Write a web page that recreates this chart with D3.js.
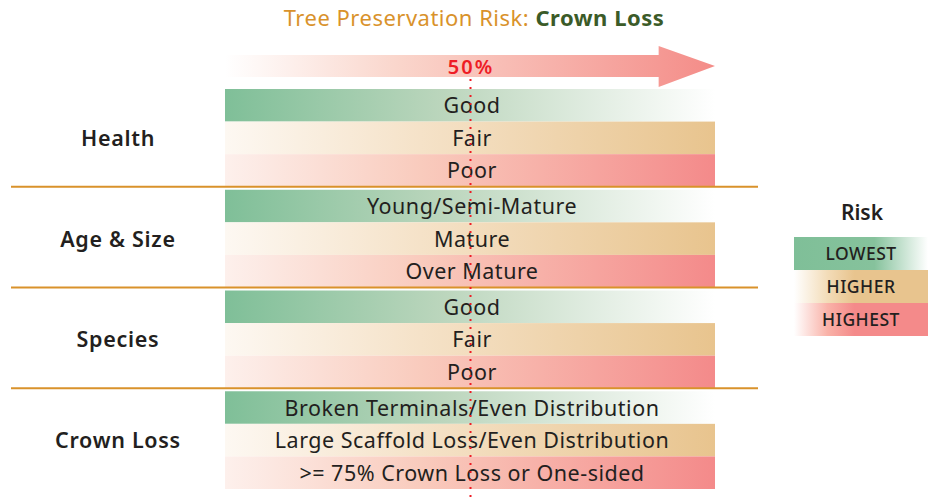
<!DOCTYPE html>
<html>
<head>
<meta charset="utf-8">
<script src="https://cdn.jsdelivr.net/npm/d3@7"></script>
<style>
  body { margin: 0; background: #fff; }
  text { font-family: "Noto Sans", sans-serif; }
</style>
</head>
<body>
<div class="chart"></div>
<script>
/* chart data */
const groups = ["Health", "Age & Size", "Species", "Crown Loss"];
const rowLabels = [
  ["Good", "Fair", "Poor"],
  ["Young/Semi-Mature", "Mature", "Over Mature"],
  ["Good", "Fair", "Poor"],
  ["Broken Terminals/Even Distribution", "Large Scaffold Loss/Even Distribution", ">= 75% Crown Loss or One-sided"]
];
const riskLevels = ["LOWEST", "HIGHER", "HIGHEST"];
const threshold = 0.5;   // 50% marker

const width = 930, height = 501;

const svg = d3.select(".chart").append("svg")
  .attr("width", width)
  .attr("height", height);

const defs = svg.append("defs");

/* gradient helper */
function grad(id, stops) {
  const g = defs.append("linearGradient").attr("id", id)
    .attr("x1", "0%").attr("x2", "100%").attr("y1", "0%").attr("y2", "0%");
  stops.forEach(s => g.append("stop").attr("offset", s[0]).attr("stop-color", s[1]));
}
grad("g-low", [["0%", "#7fbf98"], ["45%", "#bcd6bd"], ["100%", "#ffffff"]]);
grad("g-mid", [["0%", "#fdf8f2"], ["40%", "#f5e2c8"], ["100%", "#e8c48e"]]);
grad("g-high", [["0%", "#fdf0ec"], ["40%", "#f9cbbd"], ["100%", "#f48a8a"]]);
grad("g-arrow", [["0%", "#ffffff"], ["35%", "#fad6cc"], ["100%", "#f48c88"]]);
grad("l-low", [["0%", "#7fbf98"], ["60%", "#86c29c"], ["100%", "#ffffff"]]);
grad("l-mid", [["0%", "#ffffff"], ["25%", "#f3dcb8"], ["45%", "#e8c48e"], ["100%", "#e8c48e"]]);
grad("l-high", [["0%", "#ffffff"], ["25%", "#f9b2a8"], ["45%", "#f48a8a"], ["100%", "#f48a8a"]]);
const fills = ["url(#g-low)", "url(#g-mid)", "url(#g-high)"];
const legendFills = ["url(#l-low)", "url(#l-mid)", "url(#l-high)"];

/* scales */
const x = d3.scaleLinear().domain([0, 1]).range([225, 715]);

const yGroup = d3.scaleBand()
  .domain(groups)
  .range([89, 490])
  .paddingInner(0.02)
  .paddingOuter(0);

const yRow = d3.scaleBand()
  .domain(d3.range(3))
  .range([0, yGroup.bandwidth() - 1]);

/* title */
const title = svg.append("text")
  .attr("x", 474).attr("y", 26)
  .attr("text-anchor", "middle")
  .style("font-size", "22px")
  .style("letter-spacing", "0.5px");
title.append("tspan").attr("fill", "#d9922b").text("Tree Preservation Risk: ");
title.append("tspan").attr("fill", "#3b5b28").style("font-weight", "bold").text("Crown Loss");

/* arrow */
const ay = 66;
svg.append("path")
  .attr("d", `M${x(0)},${ay - 11} L${x(0.885)},${ay - 11} L${x(0.885)},${ay - 20} L${x(1)},${ay} L${x(0.885)},${ay + 21} L${x(0.885)},${ay + 11} L${x(0)},${ay + 11} Z`)
  .attr("fill", "url(#g-arrow)");

/* rows */
const groupG = svg.selectAll(".group")
  .data(groups)
  .join("g")
  .attr("class", "group")
  .attr("transform", d => `translate(0,${yGroup(d)})`);

groupG.each(function(g, gi) {
  const sel = d3.select(this);
  const rows = rowLabels[gi].map((label, i) => ({label, i}));

  sel.selectAll("rect")
    .data(rows)
    .join("rect")
    .attr("x", x(0))
    .attr("y", d => yRow(d.i))
    .attr("width", x(1) - x(0))
    .attr("height", yRow.bandwidth())
    .attr("fill", d => fills[d.i]);

  sel.selectAll(".row-label")
    .data(rows)
    .join("text")
    .attr("class", "row-label")
    .attr("x", (x(0) + x(1)) / 2 + 2)
    .attr("y", d => yRow(d.i) + yRow.bandwidth() / 2 + 8)
    .attr("text-anchor", "middle")
    .attr("fill", "#231f20")
    .style("font-size", "21.5px")
    .style("letter-spacing", "0.5px")
    .text(d => d.label);

  sel.append("text")
    .attr("x", 118)
    .attr("y", yRow(1) + yRow.bandwidth() / 2 + 8)
    .attr("text-anchor", "middle")
    .attr("fill", "#231f20")
    .style("font-size", "21.5px")
    .style("font-weight", "600")
    .style("letter-spacing", "0.7px")
    .text(g);

  if (gi < groups.length - 1) {
    sel.append("line")
      .attr("x1", 11).attr("x2", 758)
      .attr("y1", yGroup.bandwidth() - 1).attr("y2", yGroup.bandwidth() - 1)
      .attr("stroke", "#d9922b")
      .attr("stroke-width", 2);
  }
});

/* 50% marker */
svg.append("line")
  .attr("x1", x(threshold) + 0.5).attr("x2", x(threshold) + 0.5)
  .attr("y1", 79).attr("y2", height)
  .attr("stroke", "#ee1c25")
  .attr("stroke-width", 2)
  .attr("stroke-dasharray", "2,6");

svg.append("text")
  .attr("x", x(threshold) + 1).attr("y", 74)
  .attr("text-anchor", "middle")
  .attr("fill", "#ee1c25")
  .style("font-size", "20px")
  .style("font-weight", "600")
  .style("letter-spacing", "2px")
  .text(d3.format(".0%")(threshold));

/* legend */
const legendY = d3.scaleBand().domain(riskLevels).range([237, 336]);

svg.append("text")
  .attr("x", 862).attr("y", 220)
  .attr("text-anchor", "middle")
  .attr("fill", "#231f20")
  .style("font-size", "21px")
  .style("font-weight", "600")
  .text("Risk");

svg.selectAll(".legend-box")
  .data(riskLevels)
  .join("rect")
  .attr("class", "legend-box")
  .attr("x", 794)
  .attr("y", d => legendY(d))
  .attr("width", 134)
  .attr("height", legendY.bandwidth())
  .attr("fill", (d, i) => legendFills[i]);

svg.selectAll(".legend-label")
  .data(riskLevels)
  .join("text")
  .attr("class", "legend-label")
  .attr("x", 861)
  .attr("y", d => legendY(d) + legendY.bandwidth() / 2 + 6)
  .attr("text-anchor", "middle")
  .attr("fill", "#231f20")
  .style("font-size", "17.5px")
  .style("font-weight", "500")
  .style("letter-spacing", "0.5px")
  .text(d => d);
</script>
</body>
</html>
